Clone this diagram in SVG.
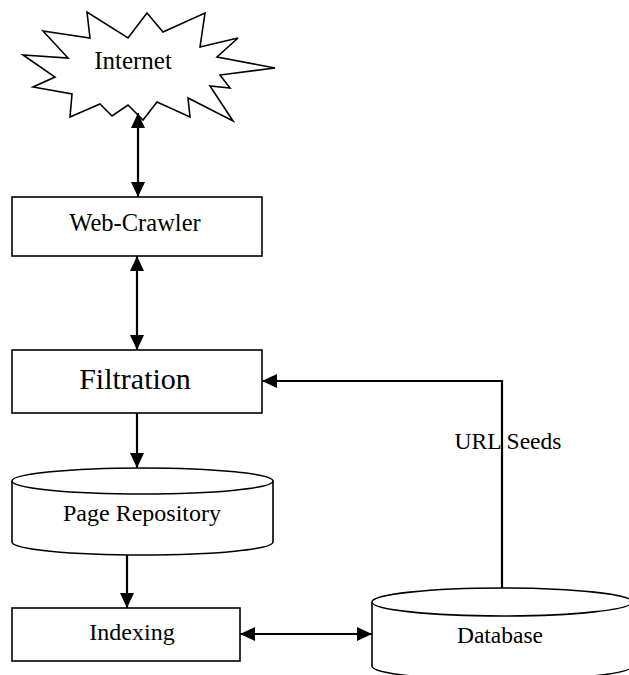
<svg xmlns="http://www.w3.org/2000/svg" width="629" height="675" viewBox="0 0 629 675">
<defs>
<style>
.shape{fill:#fff;stroke:#000;stroke-width:1.6}
.lbl{font-family:"Liberation Serif","Times New Roman",serif;fill:#000;text-anchor:middle}
.conn{fill:none;stroke:#000;stroke-width:2.2}
</style>
<marker id="ah" markerUnits="userSpaceOnUse" markerWidth="15" markerHeight="14" refX="15" refY="7" orient="auto-start-reverse">
<path d="M0,0 L15,7 L0,14 z" fill="#000"/>
</marker>
</defs>
<rect width="629" height="675" fill="#fff"/>
<g id="internet">
<polygon class="shape" points="43,31 90,38 87,12 128,38 147,13 163,32 205,13 200,47 238,38 217,57 275,68 220,75 230,88 210,86 233,121 188,98 190,117 157,102 143,120 128,105 112,116 100,104 70,117 72,94 33,87 55,77 23,55 68,58"/>
<text class="lbl" x="133" y="69" font-size="25">Internet</text>
</g>
<g id="web-crawler">
<rect class="shape" x="12" y="197" width="250" height="59"/>
<text class="lbl" x="135" y="231" font-size="24.5">Web-Crawler</text>
</g>
<g id="filtration">
<rect class="shape" x="12" y="350" width="250" height="63"/>
<text class="lbl" x="135" y="389" font-size="30">Filtration</text>
</g>
<g id="page-repository">
<path class="shape" d="M12,481 L12,542 A130.5,13 0 0 0 273,542 L273,481"/>
<ellipse class="shape" cx="142.5" cy="481" rx="130.5" ry="13"/>
<text class="lbl" x="142" y="521" font-size="24">Page Repository</text>
</g>
<g id="indexing">
<rect class="shape" x="12" y="608" width="228" height="53"/>
<text class="lbl" x="132" y="640" font-size="24">Indexing</text>
</g>
<g id="database">
<path class="shape" d="M372,602 L372,666 A130,14 0 0 0 632,666 L632,602"/>
<ellipse class="shape" cx="502" cy="602" rx="130" ry="14"/>
<text class="lbl" x="500" y="643" font-size="23.5">Database</text>
</g>
<g id="connectors">
<path class="conn" d="M138,113 L138,197" marker-start="url(#ah)" marker-end="url(#ah)"/>
<path class="conn" d="M137,256 L137,350" marker-start="url(#ah)" marker-end="url(#ah)"/>
<path class="conn" d="M137,413 L137,468" marker-end="url(#ah)"/>
<path class="conn" d="M127,555 L127,608" marker-end="url(#ah)"/>
<path class="conn" d="M240,634 L372,634" marker-start="url(#ah)" marker-end="url(#ah)"/>
<path class="conn" d="M502,588 L502,381 L262,381" marker-end="url(#ah)"/>
<text class="lbl" x="508" y="449" font-size="23.5">URL Seeds</text>
</g>
</svg>
